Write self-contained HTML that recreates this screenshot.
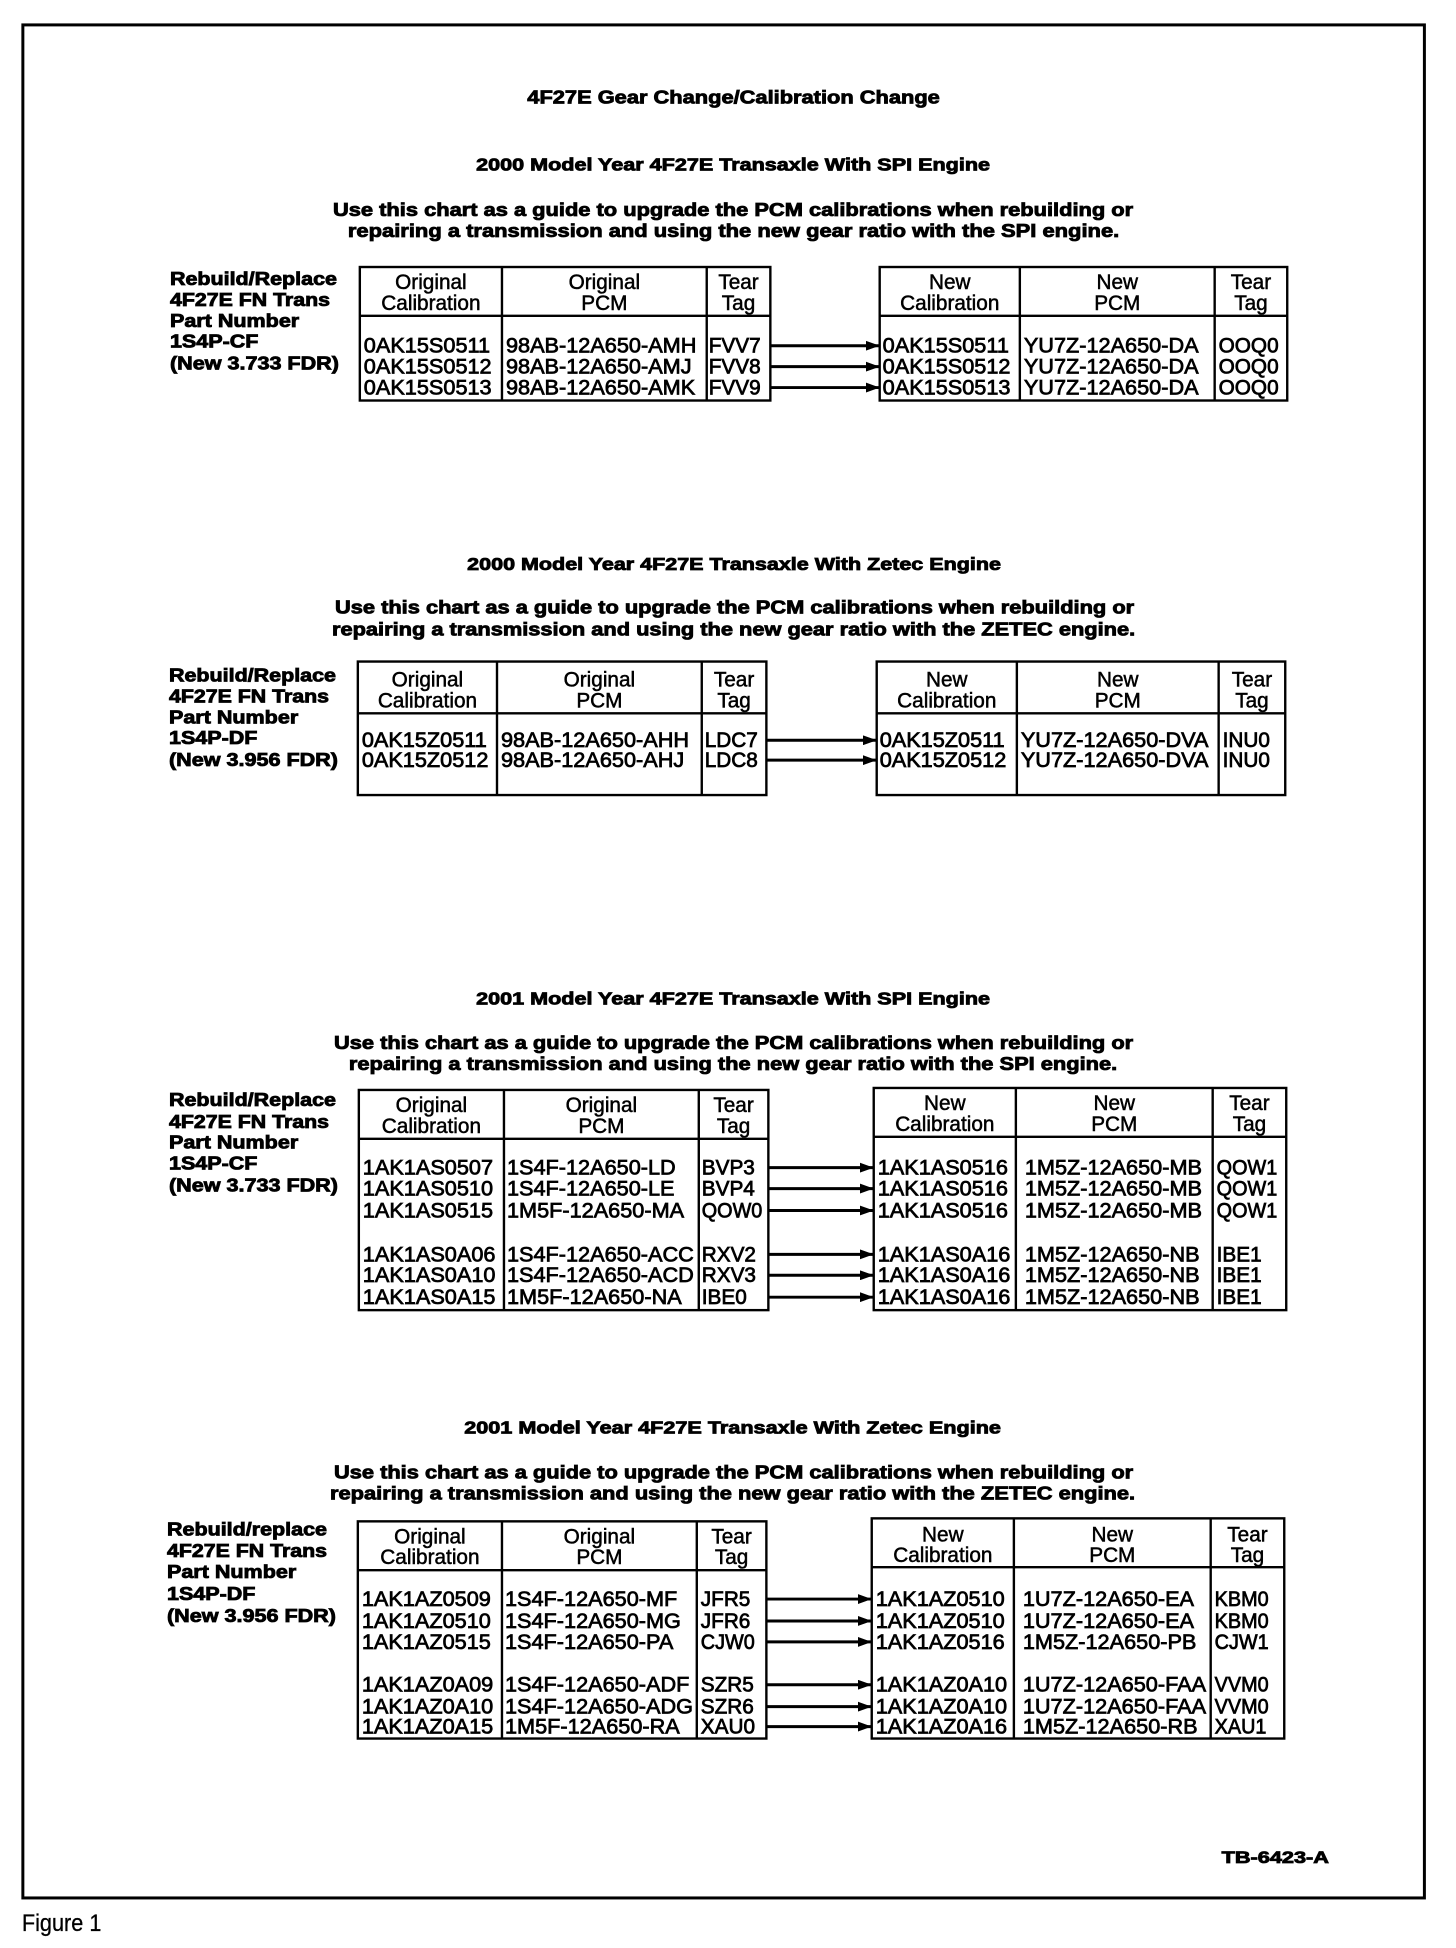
<!DOCTYPE html>
<html><head><meta charset="utf-8"><style>
html,body{margin:0;padding:0;background:#fff;}
svg{display:block;}
.b{font-family:"Liberation Sans",Arial,sans-serif;font-weight:bold;fill:#000;stroke:#000;stroke-width:0.85;}
.d{font-family:"Liberation Sans",Arial,sans-serif;font-size:21px;fill:#000;stroke:#000;stroke-width:0.75;}
.h{font-family:"Liberation Sans",Arial,sans-serif;font-size:21px;fill:#000;stroke:#000;stroke-width:0.5;text-anchor:middle;}
.t{fill:none;stroke:#000;stroke-width:2.4;}
.ar{stroke:#000;stroke-width:3;}
</style></head><body>
<svg width="1456" height="1948" viewBox="0 0 1456 1948" xmlns="http://www.w3.org/2000/svg">
<defs><marker id="a" markerWidth="14" markerHeight="10" refX="14" refY="5" orient="auto" markerUnits="userSpaceOnUse"><path d="M0,0 L14,5 L0,10 z" fill="#000"/></marker></defs>
<rect x="0" y="0" width="1456" height="1948" fill="#fff"/>
<g transform="scale(0.994,0.9963)">
<rect x="23" y="25" width="1410" height="1880" fill="none" stroke="#000" stroke-width="3"/>

<text class="b" x="738" y="104" font-size="19" text-anchor="middle" textLength="415" lengthAdjust="spacingAndGlyphs">4F27E Gear Change/Calibration Change</text>

<!-- Section 1 -->
<text class="b" x="737.5" y="171" font-size="18" text-anchor="middle" textLength="517" lengthAdjust="spacingAndGlyphs">2000 Model Year 4F27E Transaxle With SPI Engine</text>
<text class="b" x="737.5" y="217" font-size="19" text-anchor="middle" textLength="805" lengthAdjust="spacingAndGlyphs">Use this chart as a guide to upgrade the PCM calibrations when rebuilding or</text>
<text class="b" x="738" y="238" font-size="19" text-anchor="middle" textLength="776" lengthAdjust="spacingAndGlyphs">repairing a transmission and using the new gear ratio with the SPI engine.</text>
<text class="b" x="171" y="286" font-size="19" textLength="168" lengthAdjust="spacingAndGlyphs">Rebuild/Replace</text>
<text class="b" x="171" y="307" font-size="19" textLength="161" lengthAdjust="spacingAndGlyphs">4F27E FN Trans</text>
<text class="b" x="171" y="328" font-size="19" textLength="130" lengthAdjust="spacingAndGlyphs">Part Number</text>
<text class="b" x="171" y="349" font-size="19" textLength="89" lengthAdjust="spacingAndGlyphs">1S4P-CF</text>
<text class="b" x="171" y="371" font-size="19" textLength="170" lengthAdjust="spacingAndGlyphs">(New 3.733 FDR)</text>

<rect class="t" x="362" y="268" width="413" height="134"/>
<line class="t" x1="362" y1="317" x2="775" y2="317"/>
<line class="t" x1="505" y1="268" x2="505" y2="402"/>
<line class="t" x1="711" y1="268" x2="711" y2="402"/>
<rect class="t" x="885" y="268" width="410" height="134"/>
<line class="t" x1="885" y1="317" x2="1295" y2="317"/>
<line class="t" x1="1026" y1="268" x2="1026" y2="402"/>
<line class="t" x1="1222" y1="268" x2="1222" y2="402"/>

<text class="h" transform="translate(433.5,290) scale(0.995,1)">Original</text>
<text class="h" transform="translate(433.5,311) scale(0.995,1)">Calibration</text>
<text class="h" transform="translate(608,290) scale(0.995,1)">Original</text>
<text class="h" transform="translate(608,311) scale(0.995,1)">PCM</text>
<text class="h" transform="translate(743,290) scale(0.995,1)">Tear</text>
<text class="h" transform="translate(743,311) scale(0.995,1)">Tag</text>
<text class="h" transform="translate(955.5,290) scale(0.995,1)">New</text>
<text class="h" transform="translate(955.5,311) scale(0.995,1)">Calibration</text>
<text class="h" transform="translate(1124,290) scale(0.995,1)">New</text>
<text class="h" transform="translate(1124,311) scale(0.995,1)">PCM</text>
<text class="h" transform="translate(1258.5,290) scale(0.995,1)">Tear</text>
<text class="h" transform="translate(1258.5,311) scale(0.995,1)">Tag</text>

<text class="d" transform="translate(366,354) scale(1.04,1)">0AK15S0511</text>
<text class="d" transform="translate(366,375) scale(1.04,1)">0AK15S0512</text>
<text class="d" transform="translate(366,396) scale(1.04,1)">0AK15S0513</text>
<text class="d" transform="translate(509,354) scale(1.04,1)">98AB-12A650-AMH</text>
<text class="d" transform="translate(509,375) scale(1.04,1)">98AB-12A650-AMJ</text>
<text class="d" transform="translate(509,396) scale(1.04,1)">98AB-12A650-AMK</text>
<text class="d" transform="translate(713,354) scale(0.995,1)">FVV7</text>
<text class="d" transform="translate(713,375) scale(0.995,1)">FVV8</text>
<text class="d" transform="translate(713,396) scale(0.995,1)">FVV9</text>
<text class="d" transform="translate(888,354) scale(1.04,1)">0AK15S0511</text>
<text class="d" transform="translate(888,375) scale(1.04,1)">0AK15S0512</text>
<text class="d" transform="translate(888,396) scale(1.04,1)">0AK15S0513</text>
<text class="d" transform="translate(1030,354) scale(1.04,1)">YU7Z-12A650-DA</text>
<text class="d" transform="translate(1030,375) scale(1.04,1)">YU7Z-12A650-DA</text>
<text class="d" transform="translate(1030,396) scale(1.04,1)">YU7Z-12A650-DA</text>
<text class="d" transform="translate(1226,354) scale(0.995,1)">OOQ0</text>
<text class="d" transform="translate(1226,375) scale(0.995,1)">OOQ0</text>
<text class="d" transform="translate(1226,396) scale(0.995,1)">OOQ0</text>
<line class="ar" x1="776" y1="347" x2="885" y2="347" marker-end="url(#a)"/>
<line class="ar" x1="776" y1="368" x2="885" y2="368" marker-end="url(#a)"/>
<line class="ar" x1="776" y1="389" x2="885" y2="389" marker-end="url(#a)"/>

<!-- Section 2 -->
<text class="b" x="738.5" y="572" font-size="18" text-anchor="middle" textLength="537" lengthAdjust="spacingAndGlyphs">2000 Model Year 4F27E Transaxle With Zetec Engine</text>
<text class="b" x="739" y="616" font-size="19" text-anchor="middle" textLength="804" lengthAdjust="spacingAndGlyphs">Use this chart as a guide to upgrade the PCM calibrations when rebuilding or</text>
<text class="b" x="738" y="638" font-size="19" text-anchor="middle" textLength="808" lengthAdjust="spacingAndGlyphs">repairing a transmission and using the new gear ratio with the ZETEC engine.</text>
<text class="b" x="170" y="684" font-size="19" textLength="168" lengthAdjust="spacingAndGlyphs">Rebuild/Replace</text>
<text class="b" x="170" y="705" font-size="19" textLength="161" lengthAdjust="spacingAndGlyphs">4F27E FN Trans</text>
<text class="b" x="170" y="726" font-size="19" textLength="130" lengthAdjust="spacingAndGlyphs">Part Number</text>
<text class="b" x="170" y="747" font-size="19" textLength="89" lengthAdjust="spacingAndGlyphs">1S4P-DF</text>
<text class="b" x="170" y="769" font-size="19" textLength="170" lengthAdjust="spacingAndGlyphs">(New 3.956 FDR)</text>

<rect class="t" x="360" y="664" width="411" height="134"/>
<line class="t" x1="360" y1="716" x2="771" y2="716"/>
<line class="t" x1="500" y1="664" x2="500" y2="798"/>
<line class="t" x1="706" y1="664" x2="706" y2="798"/>
<rect class="t" x="882" y="664" width="411" height="134"/>
<line class="t" x1="882" y1="716" x2="1293" y2="716"/>
<line class="t" x1="1023" y1="664" x2="1023" y2="798"/>
<line class="t" x1="1226" y1="664" x2="1226" y2="798"/>

<text class="h" transform="translate(430,689) scale(0.995,1)">Original</text>
<text class="h" transform="translate(430,710) scale(0.995,1)">Calibration</text>
<text class="h" transform="translate(603,689) scale(0.995,1)">Original</text>
<text class="h" transform="translate(603,710) scale(0.995,1)">PCM</text>
<text class="h" transform="translate(738.5,689) scale(0.995,1)">Tear</text>
<text class="h" transform="translate(738.5,710) scale(0.995,1)">Tag</text>
<text class="h" transform="translate(952.5,689) scale(0.995,1)">New</text>
<text class="h" transform="translate(952.5,710) scale(0.995,1)">Calibration</text>
<text class="h" transform="translate(1124.5,689) scale(0.995,1)">New</text>
<text class="h" transform="translate(1124.5,710) scale(0.995,1)">PCM</text>
<text class="h" transform="translate(1259.5,689) scale(0.995,1)">Tear</text>
<text class="h" transform="translate(1259.5,710) scale(0.995,1)">Tag</text>

<text class="d" transform="translate(364,750) scale(1.04,1)">0AK15Z0511</text>
<text class="d" transform="translate(364,770) scale(1.04,1)">0AK15Z0512</text>
<text class="d" transform="translate(504,750) scale(1.04,1)">98AB-12A650-AHH</text>
<text class="d" transform="translate(504,770) scale(1.04,1)">98AB-12A650-AHJ</text>
<text class="d" transform="translate(709,750) scale(0.995,1)">LDC7</text>
<text class="d" transform="translate(709,770) scale(0.995,1)">LDC8</text>
<text class="d" transform="translate(885,750) scale(1.04,1)">0AK15Z0511</text>
<text class="d" transform="translate(885,770) scale(1.04,1)">0AK15Z0512</text>
<text class="d" transform="translate(1027,750) scale(1.04,1)">YU7Z-12A650-DVA</text>
<text class="d" transform="translate(1027,770) scale(1.04,1)">YU7Z-12A650-DVA</text>
<text class="d" transform="translate(1230,750) scale(0.995,1)">INU0</text>
<text class="d" transform="translate(1230,770) scale(0.995,1)">INU0</text>
<line class="ar" x1="772" y1="743" x2="882" y2="743" marker-end="url(#a)"/>
<line class="ar" x1="772" y1="763" x2="882" y2="763" marker-end="url(#a)"/>

<!-- Section 3 -->
<text class="b" x="737.5" y="1008" font-size="18" text-anchor="middle" textLength="517" lengthAdjust="spacingAndGlyphs">2001 Model Year 4F27E Transaxle With SPI Engine</text>
<text class="b" x="738" y="1053" font-size="19" text-anchor="middle" textLength="804" lengthAdjust="spacingAndGlyphs">Use this chart as a guide to upgrade the PCM calibrations when rebuilding or</text>
<text class="b" x="737.5" y="1074" font-size="19" text-anchor="middle" textLength="773" lengthAdjust="spacingAndGlyphs">repairing a transmission and using the new gear ratio with the SPI engine.</text>
<text class="b" x="170" y="1110" font-size="19" textLength="168" lengthAdjust="spacingAndGlyphs">Rebuild/Replace</text>
<text class="b" x="170" y="1132" font-size="19" textLength="161" lengthAdjust="spacingAndGlyphs">4F27E FN Trans</text>
<text class="b" x="170" y="1153" font-size="19" textLength="130" lengthAdjust="spacingAndGlyphs">Part Number</text>
<text class="b" x="170" y="1174" font-size="19" textLength="89" lengthAdjust="spacingAndGlyphs">1S4P-CF</text>
<text class="b" x="170" y="1196" font-size="19" textLength="170" lengthAdjust="spacingAndGlyphs">(New 3.733 FDR)</text>

<rect class="t" x="361" y="1094" width="412" height="221"/>
<line class="t" x1="361" y1="1143" x2="773" y2="1143"/>
<line class="t" x1="507" y1="1094" x2="507" y2="1315"/>
<line class="t" x1="703" y1="1094" x2="703" y2="1315"/>
<rect class="t" x="879" y="1092" width="415" height="223"/>
<line class="t" x1="879" y1="1141" x2="1294" y2="1141"/>
<line class="t" x1="1022" y1="1092" x2="1022" y2="1315"/>
<line class="t" x1="1220" y1="1092" x2="1220" y2="1315"/>

<text class="h" transform="translate(434,1116) scale(0.995,1)">Original</text>
<text class="h" transform="translate(434,1137) scale(0.995,1)">Calibration</text>
<text class="h" transform="translate(605,1116) scale(0.995,1)">Original</text>
<text class="h" transform="translate(605,1137) scale(0.995,1)">PCM</text>
<text class="h" transform="translate(738,1116) scale(0.995,1)">Tear</text>
<text class="h" transform="translate(738,1137) scale(0.995,1)">Tag</text>
<text class="h" transform="translate(950.5,1114) scale(0.995,1)">New</text>
<text class="h" transform="translate(950.5,1135) scale(0.995,1)">Calibration</text>
<text class="h" transform="translate(1121,1114) scale(0.995,1)">New</text>
<text class="h" transform="translate(1121,1135) scale(0.995,1)">PCM</text>
<text class="h" transform="translate(1257,1114) scale(0.995,1)">Tear</text>
<text class="h" transform="translate(1257,1135) scale(0.995,1)">Tag</text>

<text class="d" transform="translate(365,1179) scale(1.04,1)">1AK1AS0507</text>
<text class="d" transform="translate(365,1200) scale(1.04,1)">1AK1AS0510</text>
<text class="d" transform="translate(365,1222) scale(1.04,1)">1AK1AS0515</text>
<text class="d" transform="translate(365,1266) scale(1.04,1)">1AK1AS0A06</text>
<text class="d" transform="translate(365,1287) scale(1.04,1)">1AK1AS0A10</text>
<text class="d" transform="translate(365,1309) scale(1.04,1)">1AK1AS0A15</text>
<text class="d" transform="translate(510,1179) scale(1.04,1)">1S4F-12A650-LD</text>
<text class="d" transform="translate(510,1200) scale(1.04,1)">1S4F-12A650-LE</text>
<text class="d" transform="translate(510,1222) scale(1.04,1)">1M5F-12A650-MA</text>
<text class="d" transform="translate(510,1266) scale(1.04,1)">1S4F-12A650-ACC</text>
<text class="d" transform="translate(510,1287) scale(1.04,1)">1S4F-12A650-ACD</text>
<text class="d" transform="translate(510,1309) scale(1.04,1)">1M5F-12A650-NA</text>
<text class="d" transform="translate(706,1179) scale(0.995,1)">BVP3</text>
<text class="d" transform="translate(706,1200) scale(0.995,1)">BVP4</text>
<text class="d" transform="translate(706,1222) scale(0.95,1)">QOW0</text>
<text class="d" transform="translate(706,1266) scale(0.995,1)">RXV2</text>
<text class="d" transform="translate(706,1287) scale(0.995,1)">RXV3</text>
<text class="d" transform="translate(706,1309) scale(0.995,1)">IBE0</text>
<text class="d" transform="translate(883,1179) scale(1.04,1)">1AK1AS0516</text>
<text class="d" transform="translate(883,1200) scale(1.04,1)">1AK1AS0516</text>
<text class="d" transform="translate(883,1222) scale(1.04,1)">1AK1AS0516</text>
<text class="d" transform="translate(883,1266) scale(1.04,1)">1AK1AS0A16</text>
<text class="d" transform="translate(883,1287) scale(1.04,1)">1AK1AS0A16</text>
<text class="d" transform="translate(883,1309) scale(1.04,1)">1AK1AS0A16</text>
<text class="d" transform="translate(1031,1179) scale(1.04,1)">1M5Z-12A650-MB</text>
<text class="d" transform="translate(1031,1200) scale(1.04,1)">1M5Z-12A650-MB</text>
<text class="d" transform="translate(1031,1222) scale(1.04,1)">1M5Z-12A650-MB</text>
<text class="d" transform="translate(1031,1266) scale(1.04,1)">1M5Z-12A650-NB</text>
<text class="d" transform="translate(1031,1287) scale(1.04,1)">1M5Z-12A650-NB</text>
<text class="d" transform="translate(1031,1309) scale(1.04,1)">1M5Z-12A650-NB</text>
<text class="d" transform="translate(1224,1179) scale(0.95,1)">QOW1</text>
<text class="d" transform="translate(1224,1200) scale(0.95,1)">QOW1</text>
<text class="d" transform="translate(1224,1222) scale(0.95,1)">QOW1</text>
<text class="d" transform="translate(1224,1266) scale(0.995,1)">IBE1</text>
<text class="d" transform="translate(1224,1287) scale(0.995,1)">IBE1</text>
<text class="d" transform="translate(1224,1309) scale(0.995,1)">IBE1</text>
<line class="ar" x1="774" y1="1172" x2="879" y2="1172" marker-end="url(#a)"/>
<line class="ar" x1="774" y1="1193" x2="879" y2="1193" marker-end="url(#a)"/>
<line class="ar" x1="774" y1="1215" x2="879" y2="1215" marker-end="url(#a)"/>
<line class="ar" x1="774" y1="1259" x2="879" y2="1259" marker-end="url(#a)"/>
<line class="ar" x1="774" y1="1280" x2="879" y2="1280" marker-end="url(#a)"/>
<line class="ar" x1="774" y1="1302" x2="879" y2="1302" marker-end="url(#a)"/>

<!-- Section 4 -->
<text class="b" x="737" y="1439" font-size="18" text-anchor="middle" textLength="540" lengthAdjust="spacingAndGlyphs">2001 Model Year 4F27E Transaxle With Zetec Engine</text>
<text class="b" x="738" y="1484" font-size="19" text-anchor="middle" textLength="804" lengthAdjust="spacingAndGlyphs">Use this chart as a guide to upgrade the PCM calibrations when rebuilding or</text>
<text class="b" x="737" y="1505" font-size="19" text-anchor="middle" textLength="810" lengthAdjust="spacingAndGlyphs">repairing a transmission and using the new gear ratio with the ZETEC engine.</text>
<text class="b" x="168" y="1541" font-size="19" textLength="161" lengthAdjust="spacingAndGlyphs">Rebuild/replace</text>
<text class="b" x="168" y="1563" font-size="19" textLength="161" lengthAdjust="spacingAndGlyphs">4F27E FN Trans</text>
<text class="b" x="168" y="1584" font-size="19" textLength="130" lengthAdjust="spacingAndGlyphs">Part Number</text>
<text class="b" x="168" y="1606" font-size="19" textLength="89" lengthAdjust="spacingAndGlyphs">1S4P-DF</text>
<text class="b" x="168" y="1628" font-size="19" textLength="170" lengthAdjust="spacingAndGlyphs">(New 3.956 FDR)</text>

<rect class="t" x="360" y="1527" width="411" height="218"/>
<line class="t" x1="360" y1="1576" x2="771" y2="1576"/>
<line class="t" x1="505" y1="1527" x2="505" y2="1745"/>
<line class="t" x1="701" y1="1527" x2="701" y2="1745"/>
<rect class="t" x="877" y="1524" width="415" height="221"/>
<line class="t" x1="877" y1="1573" x2="1292" y2="1573"/>
<line class="t" x1="1020" y1="1524" x2="1020" y2="1745"/>
<line class="t" x1="1218" y1="1524" x2="1218" y2="1745"/>

<text class="h" transform="translate(432.5,1549) scale(0.995,1)">Original</text>
<text class="h" transform="translate(432.5,1570) scale(0.995,1)">Calibration</text>
<text class="h" transform="translate(603,1549) scale(0.995,1)">Original</text>
<text class="h" transform="translate(603,1570) scale(0.995,1)">PCM</text>
<text class="h" transform="translate(736,1549) scale(0.995,1)">Tear</text>
<text class="h" transform="translate(736,1570) scale(0.995,1)">Tag</text>
<text class="h" transform="translate(948.5,1547) scale(0.995,1)">New</text>
<text class="h" transform="translate(948.5,1568) scale(0.995,1)">Calibration</text>
<text class="h" transform="translate(1119,1547) scale(0.995,1)">New</text>
<text class="h" transform="translate(1119,1568) scale(0.995,1)">PCM</text>
<text class="h" transform="translate(1255,1547) scale(0.995,1)">Tear</text>
<text class="h" transform="translate(1255,1568) scale(0.995,1)">Tag</text>

<text class="d" transform="translate(364,1612) scale(1.04,1)">1AK1AZ0509</text>
<text class="d" transform="translate(364,1634) scale(1.04,1)">1AK1AZ0510</text>
<text class="d" transform="translate(364,1655) scale(1.04,1)">1AK1AZ0515</text>
<text class="d" transform="translate(364,1698) scale(1.04,1)">1AK1AZ0A09</text>
<text class="d" transform="translate(364,1720) scale(1.04,1)">1AK1AZ0A10</text>
<text class="d" transform="translate(364,1740) scale(1.04,1)">1AK1AZ0A15</text>
<text class="d" transform="translate(508,1612) scale(1.04,1)">1S4F-12A650-MF</text>
<text class="d" transform="translate(508,1634) scale(1.04,1)">1S4F-12A650-MG</text>
<text class="d" transform="translate(508,1655) scale(1.04,1)">1S4F-12A650-PA</text>
<text class="d" transform="translate(508,1698) scale(1.04,1)">1S4F-12A650-ADF</text>
<text class="d" transform="translate(508,1720) scale(1.04,1)">1S4F-12A650-ADG</text>
<text class="d" transform="translate(508,1740) scale(1.04,1)">1M5F-12A650-RA</text>
<text class="d" transform="translate(705,1612) scale(0.995,1)">JFR5</text>
<text class="d" transform="translate(705,1634) scale(0.995,1)">JFR6</text>
<text class="d" transform="translate(705,1655) scale(0.95,1)">CJW0</text>
<text class="d" transform="translate(705,1698) scale(0.995,1)">SZR5</text>
<text class="d" transform="translate(705,1720) scale(0.995,1)">SZR6</text>
<text class="d" transform="translate(705,1740) scale(0.995,1)">XAU0</text>
<text class="d" transform="translate(881,1612) scale(1.04,1)">1AK1AZ0510</text>
<text class="d" transform="translate(881,1634) scale(1.04,1)">1AK1AZ0510</text>
<text class="d" transform="translate(881,1655) scale(1.04,1)">1AK1AZ0516</text>
<text class="d" transform="translate(881,1698) scale(1.04,1)">1AK1AZ0A10</text>
<text class="d" transform="translate(881,1720) scale(1.04,1)">1AK1AZ0A10</text>
<text class="d" transform="translate(881,1740) scale(1.04,1)">1AK1AZ0A16</text>
<text class="d" transform="translate(1029,1612) scale(1.04,1)">1U7Z-12A650-EA</text>
<text class="d" transform="translate(1029,1634) scale(1.04,1)">1U7Z-12A650-EA</text>
<text class="d" transform="translate(1029,1655) scale(1.04,1)">1M5Z-12A650-PB</text>
<text class="d" transform="translate(1029,1698) scale(1.04,1)">1U7Z-12A650-FAA</text>
<text class="d" transform="translate(1029,1720) scale(1.04,1)">1U7Z-12A650-FAA</text>
<text class="d" transform="translate(1029,1740) scale(1.04,1)">1M5Z-12A650-RB</text>
<text class="d" transform="translate(1222,1612) scale(0.95,1)">KBM0</text>
<text class="d" transform="translate(1222,1634) scale(0.95,1)">KBM0</text>
<text class="d" transform="translate(1222,1655) scale(0.95,1)">CJW1</text>
<text class="d" transform="translate(1222,1698) scale(0.95,1)">VVM0</text>
<text class="d" transform="translate(1222,1720) scale(0.95,1)">VVM0</text>
<text class="d" transform="translate(1222,1740) scale(0.95,1)">XAU1</text>
<line class="ar" x1="772" y1="1605" x2="877" y2="1605" marker-end="url(#a)"/>
<line class="ar" x1="772" y1="1627" x2="877" y2="1627" marker-end="url(#a)"/>
<line class="ar" x1="772" y1="1648" x2="877" y2="1648" marker-end="url(#a)"/>
<line class="ar" x1="772" y1="1691" x2="877" y2="1691" marker-end="url(#a)"/>
<line class="ar" x1="772" y1="1713" x2="877" y2="1713" marker-end="url(#a)"/>
<line class="ar" x1="772" y1="1733" x2="877" y2="1733" marker-end="url(#a)"/>

<text class="b" x="1229" y="1870" font-size="17" textLength="108" lengthAdjust="spacingAndGlyphs">TB-6423-A</text>
<text x="22" y="1938" font-family="Liberation Sans, Arial, sans-serif" font-size="24" fill="#000" stroke="#000" stroke-width="0.3" textLength="80" lengthAdjust="spacingAndGlyphs">Figure 1</text>
</g>
</svg>
</body></html>
